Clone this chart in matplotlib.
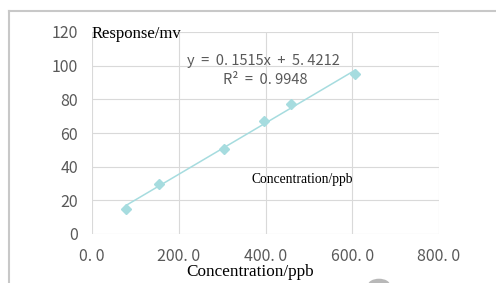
import numpy as np
import matplotlib.pyplot as plt
from matplotlib.patches import Circle
from matplotlib.lines import Line2D

# calibration points
conc = [78, 155, 305, 397, 458, 607]
resp = [15, 30, 50.5, 67, 77, 95]
x_ticks = [0, 200, 400, 600, 800]
x_labels = ['0. 0', '200. 0', '400. 0', '600. 0', '800. 0']
y_ticks = [0, 20, 40, 60, 80, 100, 120]

W, H = 496, 283
fig = plt.figure(figsize=(W / 100, H / 100), dpi=100)
ax = fig.add_axes([92 / W, 1 - 234 / H, (439 - 92) / W, (234 - 32) / H])

teal = '#a6dcdf'
slope, icpt = np.polyfit(conc, resp, 1)
xs = np.array([min(conc), max(conc)])
ax.plot(xs, slope * xs + icpt, color=teal, lw=1.1, zorder=2)
ax.plot(conc, resp, linestyle='none', marker='D', ms=5.5, color=teal, zorder=3)

ax.set_xlim(0, 800)
ax.set_ylim(0, 120)
ax.set_xticks(x_ticks)
ax.set_xticklabels(x_labels)
ax.set_yticks(y_ticks)
ax.grid(True, color='#d9d9d9', lw=0.8)
ax.set_axisbelow(True)
for s in ax.spines.values():
    s.set_visible(False)
ax.tick_params(length=0, colors='#595959', labelsize=11.5, pad=10)
for lab in ax.get_xticklabels() + ax.get_yticklabels():
    lab.set_family(['Noto Sans CJK SC', 'DejaVu Sans'])

cjk = ['Noto Sans CJK SC', 'DejaVu Sans']
fig.text(187 / W, 1 - 61 / H, 'y  =  0. 1515x  +  5. 4212', family=cjk,
         fontsize=10.5, color='#595959', va='center')
fig.text(223 / W, 1 - 80 / H, 'R²  =  0. 9948', family=cjk,
         fontsize=10.5, color='#595959', va='center')

fig.text(92 / W, 1 - 34 / H, 'Response/mv', family='Liberation Serif', fontsize=12, va='center')
fig.text(252 / W, 1 - 180 / H, 'Concentration/ppb', family='Liberation Serif', fontsize=9.8, va='center')
fig.text(186 / W, 1 - 272 / H, 'Concentration/ppb', family='Liberation Serif', fontsize=12.3, va='center')

# outer chart frame
fig.add_artist(Line2D([9 / W, 1], [1 - 11 / H, 1 - 11 / H], color='#c8c8c8', lw=1.5))
fig.add_artist(Line2D([9 / W, 9 / W], [0, 1 - 11 / H], color='#c8c8c8', lw=1.5))
# grey button peeking in at the bottom
fig.add_artist(Circle((379 / W, 1 - 285 / H), 11 / W, transform=fig.transFigure,
                      color='#b8b8b8', lw=0))

fig.savefig('out.png', dpi=100)
